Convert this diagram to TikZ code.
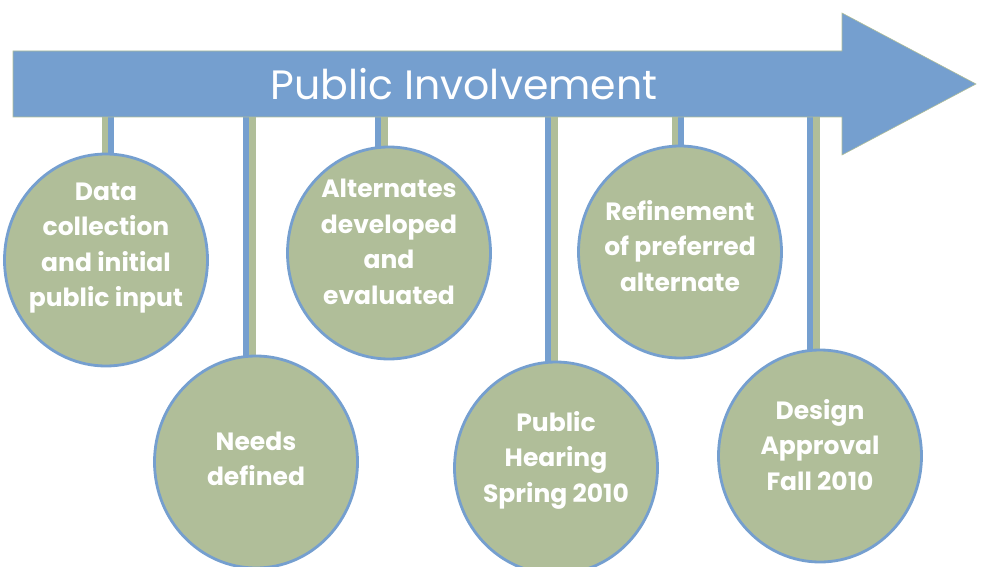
\documentclass[tikz,border=0pt]{standalone}
\usepackage{fontspec}
\setmainfont{Poppins}
\usepackage{tikz}
\usetikzlibrary{shapes.geometric, calc, backgrounds}

\definecolor{barblue}{RGB}{117,159,207}
\definecolor{sage}{RGB}{176,190,153}

\begin{document}
\begin{tikzpicture}[x=1pt, y=-1pt,
                stage/.style={ellipse, draw=barblue, line width=2.8pt, fill=sage, % the hanging circles
                    minimum width=203pt, minimum height=212pt, inner sep=-25pt,
                    text=white, align=center, font=\bfseries\fontsize{25}{35.5}\selectfont},
                lift/.style={text depth=#1}, % moves the text up by half of it
                stemgreen/.style={draw=sage, line width=7pt}, % stem halves
                stemblue/.style={draw=barblue, line width=5.5pt}
                ]
                \useasboundingbox (0,0) rectangle (982,567);
                % the big arrow
                \draw[fill=barblue, draw=sage, line width=0.6pt]
                    (13,51) -- (842,51) -- (842,13) -- (976,84) -- (842,155) -- (842,117) -- (13,117) -- cycle;
                \node[text=white, font=\fontsize{41}{41}\selectfont] (title) at (464,84) {Public Involvement};
                \coordinate (bar) at (0,84);

                % circles
                \node[stage, lift=31pt] (data) at (106,260) {Data\\collection\\and initial\\public input};
                \node[stage, lift=7pt] (needs) at (256,462) {Needs\\defined};
                \node[stage, lift=23pt] (alt) at (389,253) {Alternates\\developed\\and\\evaluated};
                \node[stage, lift=23pt] (hearing) at (556,468) {Public\\Hearing\\Spring 2010};
                \node[stage, lift=13pt] (refine) at (680,252) {Refinement\\of preferred\\alternate};
                \node[stage, lift=23pt] (design) at (820,456) {Design\\Approval\\Fall 2010};

                % stems
                \begin{scope}[on background layer]
                \foreach \n/\dx/\s in {data/2/-1, needs/-7/1, alt/-8/1, hearing/-5/1, refine/-2/-1, design/-7/1} {
                    \coordinate (g) at ($(\n.center)+(\dx+3*\s,0)$);
                    \coordinate (b) at ($(\n.center)+(\dx-3*\s,0)$);
                    \draw[stemgreen] (g) -- (g |- bar);
                    \draw[stemblue] (b) -- (b |- bar);
                }
                \end{scope}
            \end{tikzpicture}
\end{document}
